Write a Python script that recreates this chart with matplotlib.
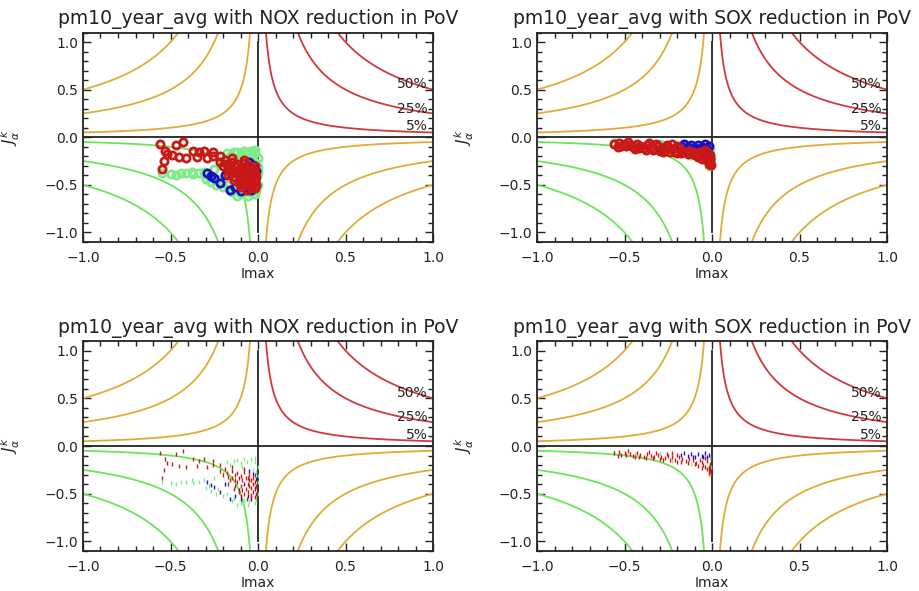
import numpy as np
import matplotlib.pyplot as plt
from matplotlib.ticker import MultipleLocator, FuncFormatter

# guide curves |Imax * J| = level
LEVELS = [0.05, 0.25, 0.5]
LEVEL_LABELS = ['5%', '25%', '50%']
LABEL_Y = [0.12, 0.30, 0.56]

TITLES = ['pm10_year_avg with NOX reduction in PoV',
	'pm10_year_avg with SOX reduction in PoV',
	'pm10_year_avg with NOX reduction in PoV',
	'pm10_year_avg with SOX reduction in PoV']

# NOX points
nox_green_x = [-0.55, -0.47, -0.41, -0.37, -0.34, -0.31, -0.30, -0.27, -0.24, -0.20, -0.18, -0.14, -0.10, -0.065, -0.04,
	-0.017, 0.0, 0.0, -0.01, 0.0, -0.12, -0.05, -0.02, -0.08, -0.20, -0.25, -0.15, -0.03, -0.09, -0.06,
	-0.16, -0.12, -0.08, -0.02, -0.01, 0.0, -0.01, -0.06, -0.10, -0.14, -0.18, -0.23, -0.28, -0.44, -0.50, -0.38]
nox_green_y = [-0.38, -0.40, -0.38, -0.39, -0.38, -0.36, -0.44, -0.47, -0.50, -0.52, -0.17, -0.16, -0.18, -0.17, -0.14,
	-0.17, -0.22, -0.31, -0.42, -0.50, -0.62, -0.58, -0.60, -0.57, -0.27, -0.33, -0.58, -0.25, -0.22, -0.47,
	-0.20, -0.15, -0.14, -0.13, -0.27, -0.38, -0.56, -0.62, -0.60, -0.55, -0.50, -0.45, -0.42, -0.38, -0.39, -0.36]
nox_blue_x = [-0.29, -0.27, -0.25, -0.22, -0.16, -0.13, -0.10, -0.05, -0.02, -0.03, -0.01, -0.06, -0.19, -0.08, -0.04, -0.11]
nox_blue_y = [-0.38, -0.41, -0.43, -0.485, -0.555, -0.52, -0.56, -0.26, -0.45, -0.29, -0.35, -0.52, -0.40, -0.40, -0.55, -0.46]
nox_red_x = [-0.56, -0.47, -0.43, -0.55, -0.54, -0.52, -0.53, -0.49, -0.45, -0.41, -0.37, -0.34, -0.31, -0.35, -0.29, -0.26,
	-0.26, -0.22, -0.22, -0.19, -0.18, -0.15, -0.13, -0.10, -0.08, -0.05, -0.03, -0.12, -0.09, -0.06, -0.05, -0.03,
	-0.02, -0.14, -0.11, -0.08, -0.065, -0.04, -0.02, -0.07, -0.16, -0.10, -0.04, -0.17, -0.01, -0.06,
	-0.20, -0.17, -0.15, -0.13, -0.12, -0.09, -0.07, -0.06, -0.05, -0.04, -0.03, -0.02, -0.01, -0.10, -0.13, -0.08,
	-0.15, -0.11, -0.04, -0.02]
nox_red_y = [-0.07, -0.08, -0.05, -0.33, -0.25, -0.18, -0.14, -0.19, -0.21, -0.22, -0.14, -0.16, -0.14, -0.21, -0.22, -0.20,
	-0.16, -0.20, -0.26, -0.24, -0.28, -0.26, -0.30, -0.31, -0.27, -0.30, -0.33, -0.38, -0.36, -0.40, -0.42, -0.48,
	-0.44, -0.45, -0.48, -0.50, -0.555, -0.53, -0.38, -0.45, -0.36, -0.42, -0.36, -0.32, -0.50, -0.34,
	-0.30, -0.40, -0.34, -0.42, -0.28, -0.46, -0.33, -0.48, -0.36, -0.44, -0.40, -0.30, -0.42, -0.52, -0.36, -0.24,
	-0.22, -0.34, -0.51, -0.53]

# SOX points
sox_green_x = [-0.56, -0.44, -0.30, -0.02, -0.01, -0.23, -0.12, -0.005]
sox_green_y = [-0.06, -0.08, -0.07, -0.30, -0.13, -0.16, -0.19, -0.22]
sox_blue_x = [-0.18, -0.16, -0.14, -0.12, -0.10, -0.08, -0.06, -0.04, -0.03, -0.02, -0.11, -0.05]
sox_blue_y = [-0.09, -0.07, -0.10, -0.08, -0.11, -0.08, -0.10, -0.07, -0.12, -0.09, -0.12, -0.11]
sox_red_x = [-0.56, -0.53, -0.52, -0.50, -0.47, -0.45, -0.43, -0.41, -0.39, -0.37, -0.35, -0.33, -0.31, -0.29, -0.27, -0.25,
	-0.23, -0.21, -0.19, -0.17, -0.15, -0.13, -0.11, -0.09, -0.07, -0.06, -0.05, -0.04, -0.03, -0.02, -0.01, -0.01,
	-0.015, -0.03, -0.48, -0.36, -0.23, -0.44, -0.30, -0.20,
	-0.54, -0.49, -0.42, -0.38, -0.34, -0.28, -0.24, -0.18, -0.14, -0.10, -0.08, -0.06, -0.04, -0.02, -0.01, -0.005,
	-0.32, -0.26, -0.20]
sox_red_y = [-0.07, -0.06, -0.09, -0.07, -0.08, -0.10, -0.07, -0.09, -0.11, -0.08, -0.10, -0.12, -0.09, -0.11, -0.13, -0.10,
	-0.12, -0.15, -0.11, -0.14, -0.16, -0.14, -0.15, -0.18, -0.15, -0.17, -0.20, -0.13, -0.16, -0.22, -0.19, -0.26,
	-0.28, -0.24, -0.05, -0.06, -0.07, -0.12, -0.14, -0.17,
	-0.10, -0.09, -0.11, -0.13, -0.13, -0.15, -0.15, -0.17, -0.18, -0.19, -0.21, -0.23, -0.22, -0.25, -0.23, -0.29,
	-0.07, -0.08, -0.09]

RED_LINE = '#d03a3a'
YEL_LINE = '#e2aa38'
GRN_LINE = '#6ae55a'
GRN_PT = '#7deb8a'
BLU_PT = '#1a10c0'
RED_PT = '#c81818'


def fmt_tick(v, pos):
	if abs(v) < 1e-9:
		v = 0.0
	return f'{v:.1f}'.replace('-', '\u2212')


def draw_guides(ax):
	xs = np.linspace(0.001, 1.0, 2000)
	for c in LEVELS:
		ax.plot(xs, c / xs, color=RED_LINE, lw=1.3)
		ax.plot(-xs, c / xs, color=YEL_LINE, lw=1.3)
		ax.plot(xs, -c / xs, color=YEL_LINE, lw=1.3)
		ax.plot(-xs, -c / xs, color=GRN_LINE, lw=1.3)
	ax.plot([-1, 1], [0, 0], color='#222222', lw=1.3)
	ax.plot([0, 0], [-1, 1], color='#222222', lw=1.3)
	for lab, ly in zip(LEVEL_LABELS, LABEL_Y):
		ax.text(0.97, ly, lab, ha='right', va='center', fontsize=10, color='#222222')


def style_axes(ax, title):
	ax.set_xlim(-1, 1)
	ax.set_ylim(-1.1, 1.1)
	ax.xaxis.set_major_locator(MultipleLocator(0.5))
	ax.xaxis.set_minor_locator(MultipleLocator(0.1))
	ax.yaxis.set_major_locator(MultipleLocator(0.5))
	ax.yaxis.set_minor_locator(MultipleLocator(0.1))
	ax.xaxis.set_major_formatter(FuncFormatter(fmt_tick))
	ax.yaxis.set_major_formatter(FuncFormatter(fmt_tick))
	ax.tick_params(which='both', direction='in', top=True, right=True, width=1, colors='#222222', labelsize=10)
	ax.tick_params(which='major', length=6)
	ax.tick_params(which='minor', length=3.5)
	ax.tick_params(axis='x', pad=6.5)
	ax.tick_params(axis='y', pad=3.5)
	for s in ax.spines.values():
		s.set_linewidth(1.3)
		s.set_color('#222222')
	ax.set_title(title, fontsize=13.5, pad=6, color='#222222')
	ax.set_xlabel('Imax', fontsize=10, color='#222222')
	ax.xaxis.set_label_coords(0.5, -0.12)
	ax.set_ylabel(r'$J^{k}_{\alpha}$', fontsize=11, color='#222222')
	ax.yaxis.set_label_coords(-0.175, 0.5)


def draw_points(ax, series, small):
	for xs, ys, col in series:
		if small:
			ax.plot(xs, ys, linestyle='none', marker='|', ms=3, mew=1.0, color=col)
		else:
			ax.plot(xs, ys, linestyle='none', marker='o', ms=5.2, mew=2.0, mfc='none', mec=col)


nox = [(nox_green_x, nox_green_y, GRN_PT), (nox_blue_x, nox_blue_y, BLU_PT), (nox_red_x, nox_red_y, RED_PT)]
sox = [(sox_green_x, sox_green_y, GRN_PT), (sox_blue_x, sox_blue_y, BLU_PT), (sox_red_x, sox_red_y, RED_PT)]

fig = plt.figure(figsize=(9.19, 5.91), dpi=100)
W, H = 919.0, 591.0
boxes = [(83, 32.5, 242), (537, 32.5, 242), (83, 341, 551), (537, 341, 551)]
for i, (left, top, bottom) in enumerate(boxes):
	ax = fig.add_axes([left / W, 1 - bottom / H, 350 / W, (bottom - top) / H])
	draw_guides(ax)
	draw_points(ax, nox if i % 2 == 0 else sox, i >= 2)
	style_axes(ax, TITLES[i])

fig.savefig('out.png', dpi=100)
